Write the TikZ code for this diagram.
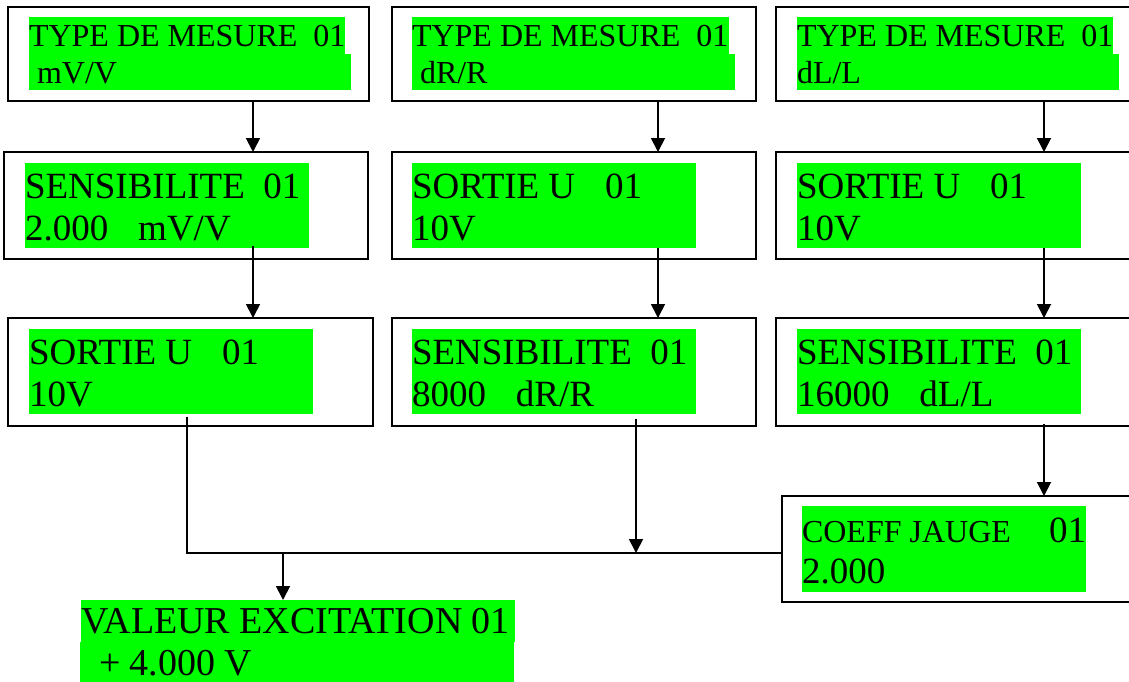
\documentclass[tikz,border=0pt]{standalone}
\usepackage{fontspec}
\setmainfont{Liberation Serif}
\usetikzlibrary{arrows.meta}
\definecolor{lcdgreen}{RGB}{0,255,0}
\newcommand\fsSmall{\fontsize{32}{36.8}\selectfont}
\newcommand\fsLarge{\fontsize{37}{42.5}\selectfont}
\newcommand\fsHuge{\fontsize{38}{43.7}\selectfont}
\newcommand\gap{\hspace{30pt}}
\begin{document}
\begin{tikzpicture}[x=1pt,y=-1pt,
  box/.style={draw=black, line width=1.8pt, fill=white, inner sep=0pt, outer sep=0pt, anchor=north west},
  hl/.style={fill=lcdgreen, draw=none, inner sep=0pt, outer sep=0pt, anchor=north west},
  lbl/.style={inner sep=0pt, outer sep=0pt, anchor=base west, text=black},
  wire/.style={line width=1.8pt},
  arr/.style={wire, -{Triangle[length=14pt,width=14pt]}}]
\useasboundingbox (0,0) rectangle (1129,682);
\clip (0,0) rectangle (1129,682);

% ---- frames ----
\node[box, minimum width=361pt, minimum height=94pt]  (b11) at (8,7) {};
\node[box, minimum width=364pt, minimum height=94pt]  (b12) at (392,7) {};
\node[box, minimum width=400pt, minimum height=94pt]  (b13) at (776,7) {};
\node[box, minimum width=364pt, minimum height=107pt] (b21) at (4,152) {};
\node[box, minimum width=364pt, minimum height=107pt] (b22) at (392,152) {};
\node[box, minimum width=400pt, minimum height=107pt] (b23) at (776,152) {};
\node[box, minimum width=365pt, minimum height=108pt] (b31) at (8,318) {};
\node[box, minimum width=364pt, minimum height=108pt] (b32) at (392,318) {};
\node[box, minimum width=400pt, minimum height=108pt] (b33) at (776,318) {};
\node[box, minimum width=400pt, minimum height=106pt] (b4)  at (782,496) {};

% ---- green display fields ----
\node[hl, minimum width=316pt, minimum height=37pt] (g11a) at (29,17) {};
\node[hl, minimum width=322pt, minimum height=36pt] (g11b) at (29,54) {};
\node[hl, minimum width=317pt, minimum height=37pt] (g12a) at (412,17) {};
\node[hl, minimum width=323pt, minimum height=36pt] (g12b) at (412,54) {};
\node[hl, minimum width=316pt, minimum height=37pt] (g13a) at (797,17) {};
\node[hl, minimum width=322pt, minimum height=36pt] (g13b) at (797,54) {};
\node[hl, minimum width=284pt, minimum height=85pt] (g21) at (25,163) {};
\node[hl, minimum width=284pt, minimum height=85pt] (g22) at (412,163) {};
\node[hl, minimum width=284pt, minimum height=85pt] (g23) at (797,163) {};
\node[hl, minimum width=284pt, minimum height=85pt] (g31) at (29,329) {};
\node[hl, minimum width=284pt, minimum height=85pt] (g32) at (412,329) {};
\node[hl, minimum width=284pt, minimum height=85pt] (g33) at (797,329) {};
\node[hl, minimum width=284pt, minimum height=86pt] (g4)  at (802,506) {};
\node[hl, minimum width=434pt, minimum height=42pt] (g5a) at (81,600) {};
\node[hl, minimum width=434pt, minimum height=40pt] (g5b) at (80,642) {};

% ---- texts ----
\node[lbl, font=\fsSmall] (t11a) at (29,47) {TYPE DE MESURE\ \ 01};
\node[lbl, font=\fsSmall] (t11b) at (29,84) {\ mV/V};
\node[lbl, font=\fsSmall] (t12a) at (412,47) {TYPE DE MESURE\ \ 01};
\node[lbl, font=\fsSmall] (t12b) at (412,84) {\ dR/R};
\node[lbl, font=\fsSmall] (t13a) at (797,47) {TYPE DE MESURE\ \ 01};
\node[lbl, font=\fsSmall] (t13b) at (797,84) {dL/L};

\node[lbl, font=\fsLarge] (t21a) at (25,198) {SENSIBILITE\ \ 01};
\node[lbl, font=\fsLarge] (t21b) at (25,240) {2.000\gap mV/V};
\node[lbl, font=\fsLarge] (t22a) at (412,198) {SORTIE U\gap 01};
\node[lbl, font=\fsLarge] (t22b) at (412,240) {10V};
\node[lbl, font=\fsLarge] (t23a) at (797,198) {SORTIE U\gap 01};
\node[lbl, font=\fsLarge] (t23b) at (797,240) {10V};

\node[lbl, font=\fsLarge] (t31a) at (29,364) {SORTIE U\gap 01};
\node[lbl, font=\fsLarge] (t31b) at (29,406) {10V};
\node[lbl, font=\fsLarge] (t32a) at (412,364) {SENSIBILITE\ \ 01};
\node[lbl, font=\fsLarge] (t32b) at (412,406) {8000\gap dR/R};
\node[lbl, font=\fsLarge] (t33a) at (797,364) {SENSIBILITE\ \ 01};
\node[lbl, font=\fsLarge] (t33b) at (797,406) {16000\gap dL/L};

\node[lbl, font=\fsSmall] (t4a) at (802,542) {COEFF JAUGE};
\node[lbl, font=\fsLarge] (t4n) at (1049,542) {01};
\node[lbl, font=\fsLarge] (t4b) at (802,583) {2.000};

\node[lbl, font=\fsHuge] (t5a) at (81,633) {VALEUR EXCITATION 01};
\node[lbl, font=\fsHuge] (t5b) at (80,675) {\ \ + 4.000 V};

% ---- connector columns and junctions ----
\coordinate (xa) at (253,0);
\coordinate (xb) at (658,0);
\coordinate (xc) at (1044,0);
\coordinate (s31) at (187,417);
\coordinate (s32) at (636,419);
\coordinate (s33) at (1044,424);
\coordinate (j1) at (187,553);
\coordinate (xv) at (283,0);
\coordinate (xm) at (636,0);

% ---- connectors ----
\draw[arr] (b11.south -| xa) -- (b21.north -| xa);
\draw[arr] (b12.south -| xb) -- (b22.north -| xb);
\draw[arr] (b13.south -| xc) -- (b23.north -| xc);
\draw[arr] ([yshift=2pt]g21.south -| xa) -- (b31.north -| xa);
\draw[arr] (g22.south -| xb) -- (b32.north -| xb);
\draw[arr] (g23.south -| xc) -- (b33.north -| xc);
\draw[wire] (s31) -- (j1) -- (j1 -| b4.west);
\draw[arr] (s32) -- (j1 -| xm);
\draw[arr] (s33) -- (b4.north -| xc);
\draw[arr] (j1 -| xv) -- (g5a.north -| xv);
\end{tikzpicture}
\end{document}
